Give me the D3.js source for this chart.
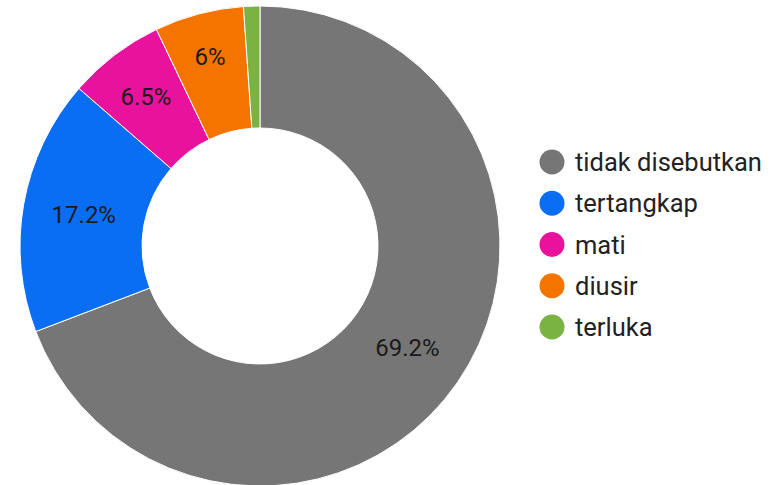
<!DOCTYPE html>
<html><head><meta charset="utf-8">
<script src="https://cdn.jsdelivr.net/npm/d3@7"></script>
<style>body{margin:0;background:#fff}svg{display:block}</style>
</head><body>
<svg id="c" width="779" height="485"></svg>
<script>
const categories = ["tidak disebutkan","tertangkap","mati","diusir","terluka"];
const values = [69.2, 17.2, 6.5, 6.0, 1.1];
const labels = ["69.2%","17.2%","6.5%","6%",""];
const colors = ["#767676","#0a6ef5","#e8129c","#f57400","#7bb343"];

const svg = d3.select("#c");
const cx = 260, cy = 246, R = 240, r = 118;
const pie = d3.pie().sort(null).value(d => d.v);
const data = pie(categories.map((c,i)=>({c, v: values[i], i})));
const arc = d3.arc().innerRadius(r).outerRadius(R);
const g = svg.append("g").attr("transform",`translate(${cx},${cy})`);
g.selectAll("path").data(data).join("path")
  .attr("d", arc).attr("fill", d=>colors[d.data.i])
  .attr("stroke","#fff").attr("stroke-width",1);
// narrow slices push their label outward so it fits
const labelRadius = d => (R+r)/2 + Math.max(0, (0.45 - (d.endAngle - d.startAngle)) * 230);
g.selectAll("text").data(data).join("text")
  .attr("transform", d=>{
    const rr = labelRadius(d);
    const c = d3.arc().innerRadius(rr).outerRadius(rr).centroid(d);
    return `translate(${c})`;
  })
  .attr("text-anchor","middle").attr("dy","0.36em")
  .attr("font-family","Roboto, Arial, sans-serif").attr("font-size",24)
  .attr("fill","#1a1a1a")
  .text(d=>labels[d.data.i]);

const ly = d3.scalePoint().domain(categories).range([162, 327]);
const lg = svg.append("g");
const items = lg.selectAll("g").data(categories).join("g")
  .attr("transform", d=>`translate(552,${ly(d)})`);
items.append("circle").attr("r",12.5).attr("fill",(d,i)=>colors[i]);
items.append("text").attr("x",23).attr("dy","0.36em")
  .attr("font-family","Roboto, Arial, sans-serif").attr("font-size",25.5)
  .attr("fill","#222").text(d=>d);
</script>
</body></html>
